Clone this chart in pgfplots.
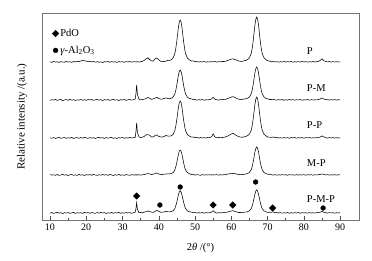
\documentclass[border=0pt]{standalone}
\usepackage{fontspec}
\setmainfont{Liberation Serif}
\usepackage{pgfplots}
\pgfplotsset{compat=1.18}
\usepackage{pgfplotstable}
% offsets above each pattern's own baseline (P: 158, P-M: 120, P-P: 82, M-P: 45, P-M-P: 7)
\pgfplotstableread{
x P PM PP MP PMP
10.0 0.2 -0.3 0.1 0.4 -0.2
10.5 -0.4 0.3 -0.2 -0.1 0.5
11.0 0.5 -0.1 0.4 0.2 -0.4
11.5 -0.1 0.6 -0.5 -0.3 0.2
12.0 0.3 -0.4 0.2 0.5 0.6
12.5 -0.5 0.2 0.6 -0.4 -0.1
13.0 0.4 0.5 -0.3 0.1 0.3
13.5 0.0 -0.6 0.1 0.6 -0.5
14.0 -0.3 0.1 0.5 -0.2 0.4
14.5 0.6 0.4 -0.4 0.3 -0.2
15.0 -0.2 -0.3 0.3 -0.5 0.5
15.5 0.3 0.6 -0.1 0.2 -0.3
16.0 -0.4 -0.2 0.6 0.5 0.1
16.5 0.5 0.3 -0.5 -0.3 0.6
17.0 0.1 -0.5 0.2 0.1 -0.4
17.5 0.6 0.2 0.4 -0.4 0.3
18.0 0.4 -0.1 -0.3 0.6 -0.1
18.5 1.0 0.5 0.5 -0.2 0.4
19.0 1.6 -0.3 -0.2 0.3 -0.5
19.5 1.2 0.4 0.6 -0.5 0.6
20.0 0.9 -0.4 0.1 0.4 0.0
20.5 0.3 0.6 -0.4 -0.1 0.5
21.0 0.7 0.0 0.5 0.5 -0.3
21.5 0.1 0.5 -0.2 -0.3 0.4
22.0 0.5 -0.3 0.4 0.6 0.1
22.5 -0.2 0.2 -0.5 0.0 -0.4
23.0 0.4 0.6 0.3 -0.4 0.5
23.5 -0.3 -0.2 0.6 0.3 -0.2
24.0 0.2 0.4 -0.1 -0.2 0.6
24.5 -0.5 -0.5 0.4 0.5 0.0
25.0 0.3 0.3 -0.4 -0.1 0.4
25.5 0.0 -0.1 0.5 0.4 -0.5
26.0 0.5 0.5 -0.2 -0.4 0.3
26.5 -0.3 -0.4 0.3 0.6 -0.1
27.0 0.4 0.2 0.6 0.0 0.5
27.5 -0.1 0.6 -0.3 -0.5 -0.3
28.0 0.3 -0.2 0.2 0.3 0.4
28.5 -0.4 0.3 -0.5 -0.2 0.0
29.0 0.5 -0.5 0.4 0.5 0.6
29.5 0.0 0.4 0.0 -0.3 -0.4
30.0 0.3 -0.1 0.5 0.2 0.3
30.5 -0.3 0.5 -0.3 -0.4 -0.2
31.0 0.4 -0.3 0.3 0.5 0.5
31.5 0.1 0.2 -0.1 0.0 0.0
32.0 0.5 0.5 0.6 -0.3 0.4
32.5 -0.2 -0.2 0.0 0.4 -0.3
33.0 0.4 0.3 0.4 -0.1 0.3
33.5 0.1 1.0 0.6 0.3 0.8
33.7 0.3 6.2 6.3 -0.2 4.3
33.9 0.0 15.0 15.2 0.4 10.2
34.1 0.4 6.1 5.8 0.0 3.9
34.5 -0.2 0.9 1.1 0.3 0.4
35.0 0.4 0.2 0.5 -0.2 0.5
35.5 0.6 0.4 0.8 0.3 0.2
36.0 1.7 0.9 1.6 0.4 1.0
36.5 3.1 1.4 3.2 1.1 1.1
37.0 4.2 2.6 3.4 1.4 2.1
37.5 2.4 1.6 2.7 1.1 1.4
38.0 1.1 0.6 0.9 0.4 0.9
38.5 0.9 1.2 1.1 0.9 0.6
39.0 3.2 1.9 2.6 1.5 1.9
39.5 4.0 2.6 3.1 2.1 2.6
40.0 2.1 1.4 1.6 0.9 1.6
40.5 0.7 0.9 1.1 0.6 0.7
41.0 0.6 1.0 0.9 0.4 0.9
41.5 0.4 1.6 1.6 0.9 1.0
42.0 0.9 2.2 2.6 1.0 1.6
42.5 1.8 1.5 1.9 1.2 1.2
43.0 1.6 1.2 1.8 1.0 1.2
43.5 2.3 1.8 2.3 1.5 1.4
44.0 4.4 3.2 3.9 2.6 2.4
44.4 8.1 5.8 7.2 4.9 4.3
44.65 12.7 9.1 11.2 7.6 6.7
44.9 18.9 13.6 16.8 11.3 9.9
45.15 26.5 18.9 23.3 15.8 13.9
45.4 34.4 24.6 30.3 20.5 18.0
45.65 39.9 28.5 35.2 23.8 20.9
45.9 42.0 30.0 37.0 25.0 22.3
46.15 39.9 28.5 35.2 23.8 20.9
46.4 34.4 24.6 30.3 20.5 18.0
46.65 26.5 18.9 23.3 15.8 13.9
46.9 18.9 13.5 16.7 11.3 9.9
47.15 12.7 9.1 11.2 7.6 6.7
47.4 8.1 5.8 7.1 4.9 4.3
47.9 3.9 2.8 3.4 2.4 2.1
48.5 2.0 1.3 1.8 1.2 1.1
49.0 1.0 1.2 0.9 0.5 0.9
49.5 1.1 0.4 1.0 0.8 0.3
50.0 0.2 0.5 0.4 -0.2 0.5
50.5 0.5 -0.2 0.6 0.4 -0.1
51.0 -0.1 0.4 -0.2 0.1 0.4
51.5 0.4 0.0 0.5 -0.3 0.0
52.0 0.1 0.5 0.0 0.4 0.5
52.5 0.5 -0.3 0.4 -0.1 -0.2
53.0 -0.2 0.3 -0.1 0.3 0.4
53.5 0.3 0.1 0.5 0.0 0.1
54.0 0.0 0.4 0.3 0.3 0.3
54.5 0.4 0.9 1.2 -0.1 0.8
55.0 0.1 2.7 4.1 0.3 2.2
55.5 0.5 0.6 0.9 0.1 0.5
56.0 -0.1 0.3 0.2 0.4 -0.1
56.5 0.4 -0.1 0.6 -0.2 0.4
57.0 0.1 0.4 0.1 0.3 0.0
57.5 0.5 0.2 0.5 0.0 0.4
58.0 0.5 0.6 0.7 0.4 0.3
58.5 0.9 0.7 1.2 0.4 0.7
59.0 1.7 1.6 1.9 1.0 1.0
59.5 2.1 2.1 3.0 1.1 1.6
60.0 2.9 3.0 4.0 1.7 2.0
60.5 3.1 3.3 4.6 1.5 2.3
61.0 2.5 2.6 3.4 1.4 1.5
61.5 1.9 1.4 2.3 0.8 1.1
62.0 1.0 0.9 1.4 0.7 0.5
62.5 0.7 0.4 0.9 0.3 0.5
63.0 0.6 0.6 0.7 0.5 0.3
63.5 1.2 0.9 1.1 0.6 0.8
64.0 1.6 1.3 1.5 1.0 0.9
64.5 2.5 1.8 2.4 1.5 1.3
65.0 4.3 3.1 3.9 2.6 2.2
65.5 8.7 6.4 7.9 5.4 4.5
65.75 13.6 9.9 12.4 8.4 6.9
66.0 20.3 14.9 18.5 12.6 10.4
66.25 28.4 20.8 25.8 17.6 14.5
66.5 36.9 27.1 33.6 23.0 18.9
66.75 42.8 31.4 39.0 26.6 21.9
67.0 45.0 33.0 41.0 28.0 23.2
67.25 42.8 31.4 39.0 26.6 21.9
67.5 36.9 27.1 33.6 23.0 18.9
67.75 28.4 20.8 25.8 17.6 14.5
68.0 20.3 14.9 18.5 12.6 10.4
68.25 13.6 9.9 12.3 8.4 6.9
68.5 8.7 6.3 7.9 5.3 4.4
69.0 4.2 3.1 3.8 2.6 2.2
69.5 2.4 1.6 2.2 1.3 1.3
70.0 1.3 1.2 1.0 0.9 0.6
70.5 1.0 0.5 0.9 0.4 0.8
71.0 0.2 0.5 0.6 0.3 0.7
71.5 0.5 0.8 1.0 -0.1 1.2
72.0 0.0 0.2 0.3 0.4 0.2
72.5 0.4 -0.2 0.5 -0.2 0.5
73.0 -0.2 0.4 -0.1 0.3 -0.1
73.5 0.3 0.0 0.4 -0.1 0.4
74.0 0.0 0.5 -0.2 0.4 -0.2
74.5 0.5 -0.3 0.5 0.0 0.3
75.0 -0.1 0.3 0.0 0.3 0.0
75.5 0.4 -0.1 0.4 -0.3 0.5
76.0 0.1 0.5 -0.3 0.4 -0.3
76.5 0.5 0.0 0.5 0.0 0.4
77.0 -0.2 0.4 0.1 0.3 -0.1
77.5 0.3 -0.2 0.5 -0.2 0.3
78.0 0.0 0.3 -0.2 0.4 0.0
78.5 0.4 0.0 0.4 -0.1 0.5
79.0 -0.1 0.5 0.0 0.3 -0.3
79.5 0.5 -0.3 0.5 0.0 0.4
80.0 0.1 0.3 -0.2 0.4 0.0
80.5 0.4 0.0 0.4 -0.2 0.3
81.0 -0.2 0.5 0.1 0.3 -0.2
81.5 0.3 -0.2 0.5 0.0 0.4
82.0 0.0 0.4 -0.1 0.4 0.0
82.5 0.5 0.0 0.3 -0.2 0.3
83.0 -0.1 0.3 0.0 0.3 -0.1
83.5 0.4 0.1 0.4 0.0 0.3
84.0 0.6 0.5 0.4 0.3 0.4
84.5 1.6 1.1 1.0 0.6 0.8
85.0 3.1 2.0 2.1 1.0 1.6
85.5 1.4 1.0 1.1 0.7 0.7
86.0 0.5 0.2 0.4 0.1 0.4
86.5 0.1 0.4 -0.1 0.3 -0.1
87.0 0.5 -0.1 0.4 -0.1 0.4
87.5 -0.1 0.4 0.0 0.3 0.0
88.0 0.4 0.0 0.5 0.0 0.4
88.5 0.0 0.4 -0.2 0.3 -0.2
89.0 0.4 -0.1 0.4 -0.1 0.3
89.5 -0.1 0.3 0.0 0.3 0.0
90.0 0.3 0.0 0.3 0.0 0.3
}\xrd

\begin{document}
\begin{tikzpicture}
\begin{axis}[
  scale only axis, width=317pt, height=207pt,
  xmin=7.8, xmax=95.2, ymin=0, ymax=207,
  axis line style={black!55, line width=0.6pt},
  xtick={10,20,...,90}, minor xtick={15,25,...,85},
  ytick=\empty,
  tick align=inside, xtick pos=bottom,
  major tick length=4.5pt, minor tick length=2.5pt,
  tick style={black!70, line width=0.5pt},
  /pgf/number format/assume math mode=true,
  ticklabel style={font=\fontsize{10}{12}\selectfont},
  xlabel={2\textit{θ} /(°)},
  xlabel style={at={(axis description cs:0.5,0)}, anchor=center, yshift=-28pt, font=\fontsize{10.5}{12}\selectfont},
  ylabel={Relative intensity /(a.u.)},
  ylabel style={at={(axis description cs:-0.063,0.5)}, anchor=center, font=\fontsize{11}{13}\selectfont},
  legend style={at={(axis description cs:0.032,0.93)}, anchor=north west, draw=none, fill=none,
    font=\fontsize{10.5}{12}\selectfont, row sep=5pt, inner sep=0pt, nodes={inner sep=1.5pt}},
  legend cell align=left,
  legend image code/.code={\draw[#1] plot coordinates {(0.1cm,0cm)};},
  clip=false,
]
\addplot[black, line width=0.55pt, forget plot] table[x=x, y expr=\thisrow{P}+158] {\xrd};
\addplot[black, line width=0.55pt, forget plot] table[x=x, y expr=\thisrow{PM}+120] {\xrd};
\addplot[black, line width=0.55pt, forget plot] table[x=x, y expr=\thisrow{PP}+82] {\xrd};
\addplot[black, line width=0.55pt, forget plot] table[x=x, y expr=\thisrow{MP}+45] {\xrd};
\addplot[black, line width=0.55pt, forget plot] table[x=x, y expr=\thisrow{PMP}+7] {\xrd};
\addplot[only marks, mark=square*, mark size=2.3pt, mark options={rotate=45, fill=black, draw=black}]
  coordinates {(33.9,24) (55.0,15) (60.4,15) (71.4,12)};
\addlegendentry{PdO}
\addplot[only marks, mark=*, mark size=2.4pt, mark options={fill=black, draw=black}]
  coordinates {(40.3,15) (45.9,33) (66.7,38) (85.3,12)};
\addlegendentry{\textit{γ}-Al\textsubscript{2}O\textsubscript{3}}
\node[anchor=west, inner sep=0pt, font=\fontsize{10.5}{12}\selectfont] at (axis cs:80.8,168.5) {P};
\node[anchor=west, inner sep=0pt, font=\fontsize{10.5}{12}\selectfont] at (axis cs:80.8,132) {P-M};
\node[anchor=west, inner sep=0pt, font=\fontsize{10.5}{12}\selectfont] at (axis cs:80.8,95) {P-P};
\node[anchor=west, inner sep=0pt, font=\fontsize{10.5}{12}\selectfont] at (axis cs:80.8,57) {M-P};
\node[anchor=west, inner sep=0pt, font=\fontsize{10.5}{12}\selectfont] at (axis cs:80.8,20.5) {P-M-P};
\coordinate (ll) at (rel axis cs:0,0);
\coordinate (ur) at (rel axis cs:1,1);
\end{axis}
\pgfresetboundingbox
\path ([shift={(-42pt,-40pt)}]ll) rectangle ([shift={(13pt,13pt)}]ur);
\end{tikzpicture}
\end{document}
